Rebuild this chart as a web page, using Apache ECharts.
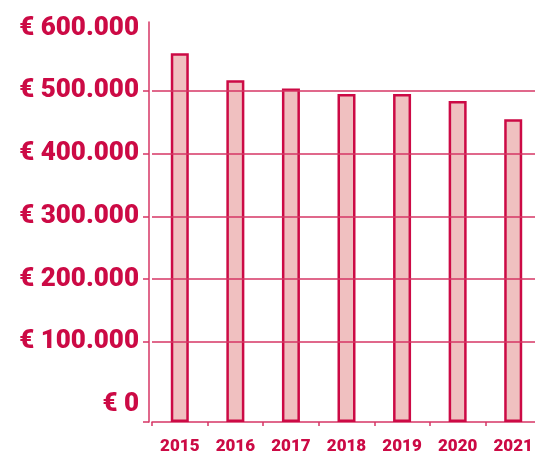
<!DOCTYPE html>
<html><head><meta charset="utf-8">
<script src="https://cdn.jsdelivr.net/npm/echarts@6/dist/echarts.min.js"></script>
<style>html,body{margin:0;padding:0;background:#fff}#c{width:535px;height:458px}</style>
</head><body><div id="c"></div>
<script>
const years = ['2015','2016','2017','2018','2019','2020','2021'];
const values = [560000, 517000, 504000, 495000, 495000, 484000, 455000];
const yLabelValues = [0, 100000, 200000, 300000, 400000, 500000, 600000];
const gridValues = [100000, 200000, 300000, 400000, 500000];
const axisBottom = -28000;

const RED = '#cc0a45';
const LINE = '#d63665';
const FONT = 'Roboto,"Liberation Sans",Arial,sans-serif';

function euro(v){
  if (yLabelValues.indexOf(v) < 0) return '';
  return '€ ' + String(v).replace(/\B(?=(\d{3})+(?!\d))/g, '.');
}

const chart = echarts.init(document.getElementById('c'));
chart.setOption({
  animation: false,
  grid: { left: 152, top: 22, width: 389, height: 400, containLabel: false, outerBoundsMode: 'none' },
  xAxis: {
    type: 'category', data: years,
    axisLine: { onZero: false, lineStyle: { color: LINE, width: 1.5 } },
    axisTick: { show: true, length: 4, lineStyle: { color: LINE, width: 1.5 } },
    axisLabel: { color: RED, fontFamily: FONT, fontWeight: 900, fontSize: 17, margin: 16, interval: 0 },
    splitLine: { show: false }
  },
  yAxis: {
    type: 'value', min: axisBottom, max: 610000, startValue: axisBottom, offset: 3,
    axisLine: { show: true, lineStyle: { color: LINE, width: 1.5 } },
    axisTick: { show: true, length: 6, customValues: [axisBottom].concat(gridValues), lineStyle: { color: LINE, width: 1.5 } },
    axisLabel: { formatter: euro, color: RED, fontFamily: FONT, fontWeight: 900, fontSize: 26, margin: 10 },
    splitLine: { show: false }
  },
  series: [{
    type: 'bar', data: values, barWidth: 18,
    itemStyle: { color: '#f0c0c0', borderColor: RED, borderWidth: 2.5 },
    markLine: {
      silent: true, symbol: 'none', label: { show: false },
      lineStyle: { color: LINE, width: 1.5, type: 'solid' },
      data: gridValues.map(v => ({ yAxis: v }))
    }
  }]
});
</script></body></html>
